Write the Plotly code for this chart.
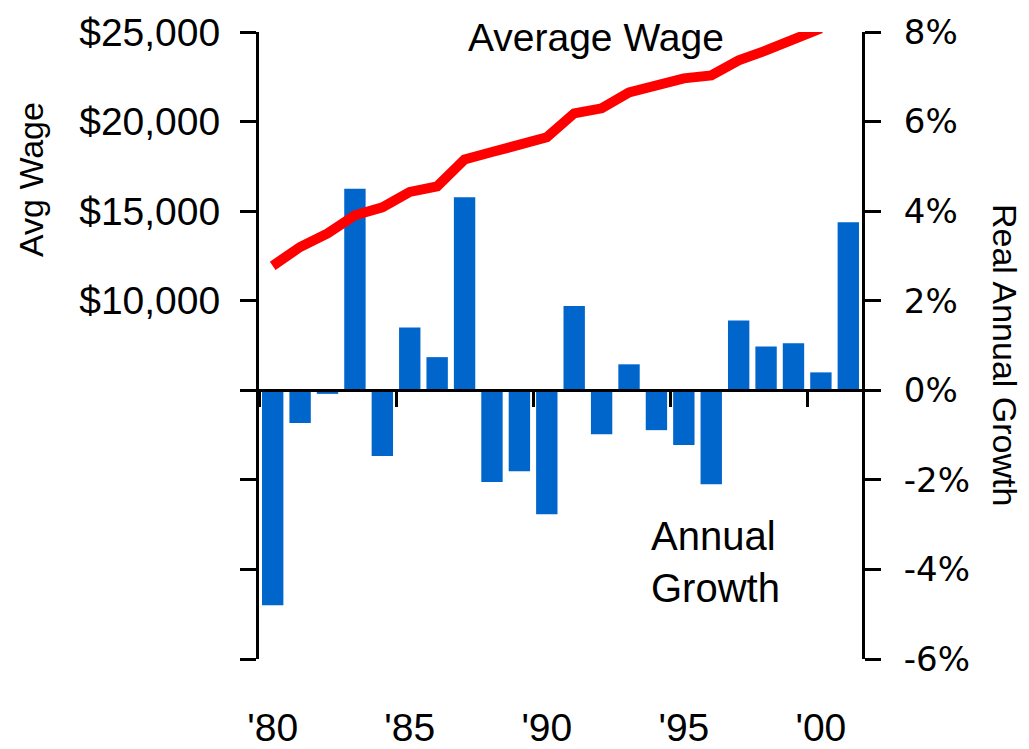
import plotly.graph_objects as go

# ---- data ----
years = list(range(1980, 2002))
growth = [-4.8, -0.73, -0.08, 4.5, -1.47, 1.4, 0.74, 4.31, -2.05, -1.81, -2.77,
          1.88, -0.98, 0.58, -0.89, -1.22, -2.1, 1.56, 0.98, 1.05, 0.40, 3.75]
wage_years = list(range(1980, 2001))
avg_wage = [11950, 13000, 13760, 14770, 15210, 16070, 16380, 17890, 18300, 18730, 19120,
            20460, 20740, 21630, 21960, 22410, 22580, 23420, 23970, 24530, 25200]

x_label_years = [1980, 1985, 1990, 1995, 2000]
x_labels = ["'80", "'85", "'90", "'95", "'00"]
x_boundaries = [1979.5, 1984.5, 1989.5, 1994.5, 1999.5]

growth_ticks = [-6, -4, -2, 0, 2, 4, 6, 8]
growth_labels = ["-6%", "-4%", "-2%", "0%", "2%", "4%", "6%", "8%"]
wage_ticks = [-10000, -5000, 0, 5000, 10000, 15000, 20000, 25000]
wage_labels = ["", "", "", "", "$10,000", "$15,000", "$20,000", "$25,000"]

NARROW = "Liberation Sans, Arial, sans-serif"
WIDE = "DejaVu Sans, Verdana, sans-serif"

fig = go.Figure()
fig.add_trace(go.Bar(x=years, y=growth, marker_color="#0066CC", marker_line_width=0,
                     xaxis="x", yaxis="y", showlegend=False))
fig.add_trace(go.Scatter(x=wage_years, y=avg_wage, mode="lines",
                         line=dict(color="#FF0000", width=10),
                         xaxis="x", yaxis="y2", showlegend=False))
# invisible helper trace for the bottom label axis
fig.add_trace(go.Scatter(x=years, y=growth, mode="markers", marker_opacity=0,
                         xaxis="x2", yaxis="y", showlegend=False, hoverinfo="skip"))

xr = [years[0] - 0.5, years[-1] + 0.5]
zero_pos = (0 - growth_ticks[0]) / (growth_ticks[-1] - growth_ticks[0])

fig.update_layout(
    width=1029, height=749,
    margin=dict(l=259, r=167, t=32, b=90),
    paper_bgcolor="white", plot_bgcolor="white",
    bargap=0.22,
    xaxis=dict(range=xr, anchor="free", position=zero_pos, domain=[0, 1],
               showline=True, linecolor="black", linewidth=3,
               tickmode="array", tickvals=x_boundaries, ticks="outside",
               ticklen=15, tickwidth=3, tickcolor="black", automargin=False,
               showticklabels=False, showgrid=False, zeroline=False),
    xaxis2=dict(range=xr, overlaying="x", anchor="free", position=0,
                showline=False, tickmode="array", tickvals=x_label_years,
                ticktext=x_labels, ticks="", ticklabelstandoff=42, automargin=False,
                tickfont=dict(family=NARROW, size=39, color="black"),
                showgrid=False, zeroline=False),
    yaxis=dict(range=[growth_ticks[0], growth_ticks[-1]], side="right",
               showline=True, linecolor="black", linewidth=3,
               tickmode="array", tickvals=growth_ticks, ticktext=growth_labels,
               ticks="outside", ticklen=16, tickwidth=3, tickcolor="black",
               ticklabelstandoff=16, automargin=False,
               tickfont=dict(family=WIDE, size=34, color="black"),
               showgrid=False, zeroline=False),
    yaxis2=dict(range=[wage_ticks[0], wage_ticks[-1]], side="left", overlaying="y",
                anchor="x", showline=True, linecolor="black", linewidth=3,
                tickmode="array", tickvals=wage_ticks, ticktext=wage_labels,
                ticks="outside", ticklen=16, tickwidth=3, tickcolor="black",
                ticklabelstandoff=12, automargin=False,
                tickfont=dict(family=NARROW, size=39, color="black"),
                showgrid=False, zeroline=False),
    annotations=[
        dict(text="Average Wage", xref="paper", yref="paper", x=0.559, y=0.992,
             xanchor="center", yanchor="middle", showarrow=False,
             font=dict(family=NARROW, size=39, color="black")),
        dict(text="Annual<br>Growth", xref="paper", yref="paper", x=0.646, y=0.155,
             xanchor="left", yanchor="middle", align="left", showarrow=False,
             font=dict(family=NARROW, size=40, color="black")),
        dict(text="Avg Wage", xref="paper", yref="paper", x=-0.378, y=0.764,
             xanchor="center", yanchor="middle", textangle=-90, showarrow=False,
             font=dict(family=NARROW, size=34, color="black")),
        dict(text="Real Annual Growth", xref="paper", yref="paper", x=1.237, y=0.485,
             xanchor="center", yanchor="middle", textangle=90, showarrow=False,
             font=dict(family=NARROW, size=34, color="black")),
    ],
)

fig.write_html("out.html", config={"displayModeBar": False},
               post_script="document.body.style.margin='0';document.body.style.overflow='hidden';")
